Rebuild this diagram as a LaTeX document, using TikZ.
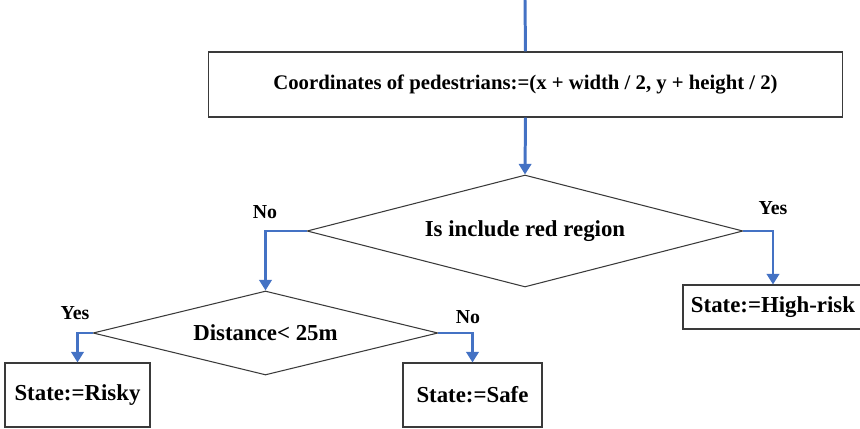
\documentclass[tikz,border=0pt]{standalone}
\usepackage{fontspec}
\setmainfont{Liberation Serif}
\usetikzlibrary{arrows.meta, shapes.geometric, positioning}
\definecolor{flow}{HTML}{4472C4}
\definecolor{edge}{HTML}{3A3A3A}
\tikzset{box/.style={draw=edge, line width=0.6pt, inner sep=0pt, font=\bfseries\fontsize{13}{15}\selectfont},
  dia/.style={box, diamond},
  fl/.style={flow, line width=1.7pt, -{Triangle[length=6pt,width=7pt]}},
  lab/.style={font=\bfseries\fontsize{11.3}{13}\selectfont}}

\begin{document}
\begin{tikzpicture}[x=0.02cm,y=-0.02cm]
  \useasboundingbox (0,0) rectangle (860,429);
  \coordinate (top) at (525,0);
  \node[box, minimum width=12.7cm, minimum height=1.3cm, font=\bfseries\fontsize{11.8}{14}\selectfont] (coord) at (525.5,84.5) {Coordinates of pedestrians:=(x + width / 2, y + height / 2)};
  \node[dia, aspect=3.89, minimum width=8.72cm, minimum height=2.24cm] (region) at (525,231) {Is include red region};
  \node[dia, aspect=4.1, minimum width=6.9cm, minimum height=1.68cm] (dist) at (265.5,333) {Distance< 25m};
  \node[box, minimum width=3.6cm, minimum height=0.88cm] (high) at (773,307) {State:=High-risk};
  \node[box, minimum width=2.9cm, minimum height=1.28cm] (risky) at (77.5,395) {State:=Risky};
  \node[box, minimum width=2.78cm, minimum height=1.28cm] (safe) at (472.5,395) {State:=Safe};
  % connectors
  \draw[flow, line width=1.7pt] (top) -- (coord.north);
  \draw[fl] (coord.south) -- (region.north);
  \draw[fl] (region.west) -| (dist.north);
  \draw[fl] (region.east) -| (high.north);
  \draw[fl] (dist.west) -| (risky.north);
  \draw[fl] (dist.east) -| (safe.north);
  % branch labels
  \node[lab] (no1) at (265,212) {No};
  \node[lab] (yes1) at (773,208) {Yes};
  \node[lab] (yes2) at (75,313) {Yes};
  \node[lab] (no2) at (468,317) {No};
\end{tikzpicture}
\end{document}
